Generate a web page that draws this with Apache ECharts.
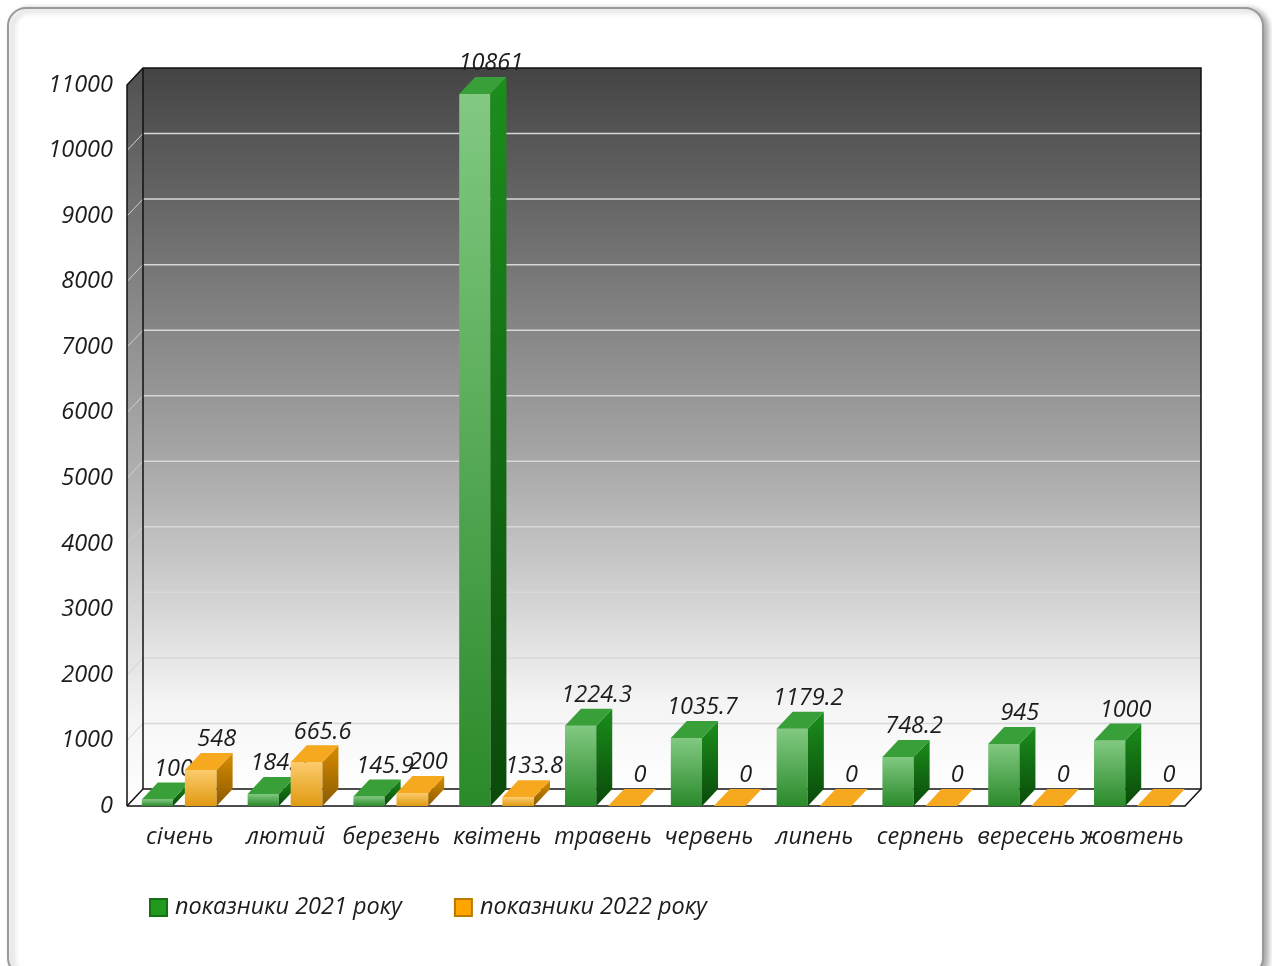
<!DOCTYPE html>
<html>
<head>
<meta charset="utf-8">
<script src="https://cdn.jsdelivr.net/npm/echarts@6/dist/echarts.min.js"></script>
<style>
    html, body { margin: 0; padding: 0; background: #fff; }
    #chart { width: 1272px; height: 966px; }
</style>
</head>
<body>
<div id="chart"></div>
<script>
// дані діаграми
const months = ['січень', 'лютий', 'березень', 'квітень', 'травень', 'червень', 'липень', 'серпень', 'вересень', 'жовтень'];
const values2021 = [100, 184.5, 145.9, 10861, 1224.3, 1035.7, 1179.2, 748.2, 945, 1000];
const values2022 = [548, 665.6, 200, 133.8, 0, 0, 0, 0, 0, 0];
const yTicks = [0, 1000, 2000, 3000, 4000, 5000, 6000, 7000, 8000, 9000, 10000, 11000];

const FONT = '"Open Sans", "Noto Sans", sans-serif';
const FS = 23.5;
const DX = 16, DY = -17; // глибина 3D

const green = {
    front: ['#82c982', '#2a8a2a'],
    side: ['#1b8e1b', '#0a4a0a'],
    top: '#39a039',
    legend: '#1f9a1f', border: '#137013'
};
const orange = {
    front: ['#fccb6c', '#e09a12'],
    side: ['#d98d00', '#8a5a00'],
    top: '#f6a81e',
    legend: '#ffa500', border: '#b97a00'
};

function grad(c) {
    return new echarts.graphic.LinearGradient(0, 0, 0, 1, [
        { offset: 0, color: c[0] },
        { offset: 1, color: c[1] }
    ]);
}

// стіни та підлога
function renderWalls(params, api) {
    const bw = api.size([1, 0])[0];
    const x0 = api.coord([0, 0])[0] - bw / 2;
    const x1 = api.coord([months.length - 1, 0])[0] + bw / 2;
    const y0 = api.coord([0, 0])[1];
    const yT = api.coord([0, yTicks[yTicks.length - 1]])[1];
    const children = [];

    children.push({
        type: 'rect',
        shape: { x: x0 + DX, y: yT + DY, width: x1 - x0, height: y0 - yT },
        style: {
            fill: new echarts.graphic.LinearGradient(0, 0, 0, 1, [
                { offset: 0, color: '#444444' },
                { offset: 0.55, color: '#a8a8a8' },
                { offset: 0.88, color: '#f4f4f4' },
                { offset: 1, color: '#ffffff' }
            ])
        }
    });
    children.push({
        type: 'polygon',
        shape: { points: [[x0, y0], [x0, yT], [x0 + DX, yT + DY], [x0 + DX, y0 + DY]] },
        style: {
            fill: new echarts.graphic.LinearGradient(0, 0, 0, 1, [
                { offset: 0, color: '#505050' },
                { offset: 0.55, color: '#b0b0b0' },
                { offset: 0.88, color: '#f4f4f4' },
                { offset: 1, color: '#ffffff' }
            ])
        }
    });
    children.push({
        type: 'polygon',
        shape: { points: [[x0, y0], [x1, y0], [x1 + DX, y0 + DY], [x0 + DX, y0 + DY]] },
        style: { fill: '#ffffff' }
    });

    yTicks.slice(1, -1).forEach(function (v) {
        const y = api.coord([0, v])[1];
        children.push({
            type: 'line',
            shape: { x1: x0 + DX, y1: y + DY, x2: x1 + DX, y2: y + DY },
            style: { stroke: '#d8d8d8', lineWidth: 1.5 }
        });
        children.push({
            type: 'line',
            shape: { x1: x0, y1: y, x2: x0 + DX, y2: y + DY },
            style: { stroke: '#d0d0d0', lineWidth: 1 }
        });
    });

    const edge = { stroke: '#111', lineWidth: 1.5, fill: null };
    children.push({ type: 'polyline', shape: { points: [[x0, y0], [x0, yT], [x0 + DX, yT + DY], [x1 + DX, yT + DY], [x1 + DX, y0 + DY], [x1, y0], [x0, y0]] }, style: edge });
    children.push({ type: 'line', shape: { x1: x0 + DX, y1: yT + DY, x2: x0 + DX, y2: y0 + DY }, style: edge });
    children.push({ type: 'line', shape: { x1: x0 + DX, y1: y0 + DY, x2: x1 + DX, y2: y0 + DY }, style: edge });
    children.push({ type: 'line', shape: { x1: x0, y1: y0, x2: x0 + DX, y2: y0 + DY }, style: edge });

    return { type: 'group', children: children };
}

// 3D стовпчик
function makeBarRenderer(colors, offset, widthFrac) {
    return function (params, api) {
        const idx = api.value(0);
        const val = api.value(1);
        const bw = api.size([1, 0])[0];
        const c = api.coord([idx, 0])[0];
        const yB = api.coord([idx, 0])[1];
        const yV = api.coord([idx, val])[1];
        const xl = c + offset * bw;
        const xr = xl + widthFrac * bw;
        const children = [];
        if (yB - yV > 0.5) {
            children.push({
                type: 'rect',
                shape: { x: xl, y: yV, width: xr - xl, height: yB - yV },
                style: { fill: grad(colors.front) }
            });
            children.push({
                type: 'polygon',
                shape: { points: [[xr, yB], [xr, yV], [xr + DX, yV + DY], [xr + DX, yB + DY]] },
                style: { fill: grad(colors.side) }
            });
        }
        children.push({
            type: 'polygon',
            shape: { points: [[xl, yV], [xr, yV], [xr + DX, yV + DY], [xl + DX, yV + DY]] },
            style: { fill: colors.top }
        });
        children.push({
            type: 'text',
            style: {
                text: String(val),
                x: (xl + xr) / 2 + DX,
                y: yV + DY - 2,
                align: 'center',
                verticalAlign: 'bottom',
                font: 'italic ' + FS + 'px ' + FONT,
                fill: '#1c1c1c'
            }
        });
        return { type: 'group', children: children };
    };
}

function initChart() {
    const chart = echarts.init(document.getElementById('chart'));
    const option = {
        animation: false,
        graphic: [{
            type: 'rect',
            z: 0,
            shape: { x: 8, y: 8, width: 1255, height: 968, r: 18 },
            style: {
                fill: '#fff',
                stroke: '#9a9a9a',
                lineWidth: 2,
                shadowColor: 'rgba(0,0,0,0.35)',
                shadowBlur: 6,
                shadowOffsetX: 4,
                shadowOffsetY: 2
            }
        }],
        grid: { left: 127, right: 87, top: 85, bottom: 160 },
        legend: {
            data: ['показники 2021 року', 'показники 2022 року'],
            left: 144,
            top: 891,
            icon: 'rect',
            itemWidth: 17,
            itemHeight: 17,
            itemGap: 52,
            textStyle: { fontFamily: FONT, fontStyle: 'italic', fontSize: FS, color: '#1c1c1c', padding: [0, 0, 0, 3] }
        },
        xAxis: {
            type: 'category',
            data: months,
            axisLine: { show: false },
            axisTick: { show: false },
            axisLabel: { margin: 20, fontFamily: FONT, fontStyle: 'italic', fontSize: FS, color: '#1c1c1c', interval: 0 }
        },
        yAxis: {
            type: 'value',
            min: 0,
            max: 11000,
            interval: 1000,
            axisLine: { show: false },
            axisTick: { show: false },
            splitLine: { show: false },
            axisLabel: {
                margin: 14,
                fontFamily: FONT, fontStyle: 'italic', fontSize: FS, color: '#1c1c1c',
                formatter: v => String(v)
            }
        },
        series: [
            {
                name: 'walls',
                type: 'custom',
                z: 1,
                silent: true,
                renderItem: renderWalls,
                data: [[0, 0]]
            },
            {
                name: 'показники 2021 року',
                type: 'custom',
                z: 2,
                itemStyle: { color: green.legend, borderColor: green.border, borderWidth: 1 },
                renderItem: makeBarRenderer(green, -0.36, 0.295),
                data: values2021.map((v, i) => [i, v])
            },
            {
                name: 'показники 2022 року',
                type: 'custom',
                z: 3,
                itemStyle: { color: orange.legend, borderColor: orange.border, borderWidth: 1 },
                renderItem: makeBarRenderer(orange, 0.047, 0.3),
                data: values2022.map((v, i) => [i, v])
            }
        ]
    };
    chart.setOption(option);
    window.addEventListener('resize', () => chart.resize());
}

window.addEventListener('DOMContentLoaded', initChart);
</script>
</body>
</html>
